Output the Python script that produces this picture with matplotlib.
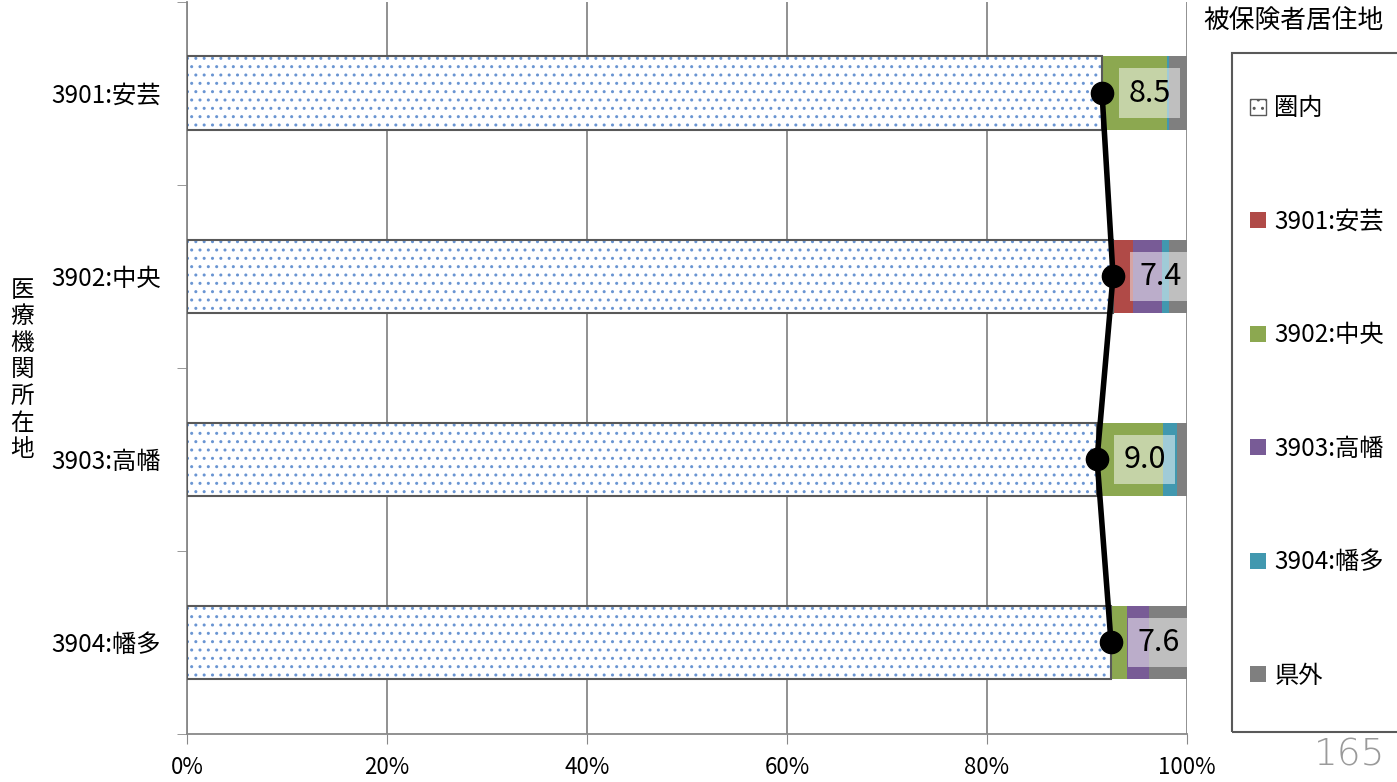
import matplotlib.pyplot as plt
from matplotlib.patches import Patch, Rectangle

plt.rcParams['font.family'] = ['Noto Sans CJK JP', 'DejaVu Sans']

# data (percent of patients by residence, per hospital area)
areas = ['3901:安芸', '3902:中央', '3903:高幡', '3904:幡多']
inner = [91.5, 92.6, 91.0, 92.4]      # 圏内
aki = [0.0, 2.0, 0.0, 0.0]            # 3901:安芸
chuo = [6.5, 0.0, 6.6, 1.6]           # 3902:中央
takahata = [0.0, 2.9, 0.0, 2.2]       # 3903:高幡
hata = [0.2, 0.7, 1.4, 0.0]           # 3904:幡多
outside = [1.8, 1.8, 1.0, 3.8]        # 県外

series = [('3901:安芸', aki, '#B04A47'),
          ('3902:中央', chuo, '#8CA850'),
          ('3903:高幡', takahata, '#785B96'),
          ('3904:幡多', hata, '#4198AF'),
          ('県外', outside, '#7F7F7F')]

fig = plt.figure(figsize=(13.97, 7.82), dpi=100)
ax = fig.add_axes([0.1339, 0.0614, 0.7158, 0.9366])

ypos = list(range(len(areas)))
bh = 0.4

# 圏内: dotted fill + outline
ax.barh(ypos, inner, height=bh, color='white', edgecolor='#6A95D2',
        hatch='..', linewidth=0, zorder=2)
ax.barh(ypos, inner, height=bh, fill=False, edgecolor='#595959',
        linewidth=1.5, zorder=3)

left = list(inner)
for name, vals, col in series:
    ax.barh(ypos, vals, left=left, height=bh, color=col, linewidth=0, zorder=2)
    left = [a + b for a, b in zip(left, vals)]

# line through the 圏内 share, labelled with the outflow share
ax.plot(inner, ypos, color='black', lw=4, marker='o', ms=16, zorder=5)
for v, y in zip(inner, ypos):
    ax.annotate(f'{100 - v:.1f}', (v, y), xytext=(19, 0), textcoords='offset points',
                ha='left', va='center', fontsize=22, zorder=6,
                bbox=dict(boxstyle='square,pad=0.3', facecolor='white',
                          edgecolor='none', alpha=0.5))

ax.set_xlim(0, 100)
ax.set_ylim(3.5, -0.5)
ax.set_xticks(range(0, 101, 20))
ax.set_xticklabels([f'{t}%' for t in range(0, 101, 20)], fontsize=16)
ax.set_yticks(ypos)
ax.set_yticklabels(areas, fontsize=17.5)
ax.set_yticks([-0.5, 0.5, 1.5, 2.5, 3.5], minor=True)
ax.tick_params(axis='y', which='major', length=0, pad=19)
ax.tick_params(axis='y', which='minor', length=7, color='#888888')
ax.tick_params(axis='x', length=7, color='#888888', pad=9)
ax.grid(axis='x', color='#888888', lw=1.3)
ax.set_axisbelow(True)
for s in ['top', 'right']:
    ax.spines[s].set_visible(False)
for s in ['left', 'bottom']:
    ax.spines[s].set_color('#888888')
    ax.spines[s].set_linewidth(1.3)

fig.text(0.016, 0.527, '\n'.join('医療機関所在地'), fontsize=17,
         ha='center', va='center', linespacing=1.2)

# legend: frame drawn separately so it can run off the right edge
fig.patches.append(Rectangle((0.882, 1 - 732 / 782), 0.2, (732 - 53) / 782,
                             transform=fig.transFigure, fill=False,
                             edgecolor='#595959', lw=1.5))
handles = [Patch(facecolor='white', edgecolor='#595959', hatch='..', label='圏内')]
handles += [Patch(facecolor=c, edgecolor='none', label=n) for n, _, c in series]
fig.legend(handles=handles, loc='center left', bbox_to_anchor=(0.8948, 0.4987),
           fontsize=17.5, frameon=False, handlelength=0.65, handleheight=0.65,
           handletextpad=0.35, labelspacing=3.6, borderpad=0, borderaxespad=0)

fig.text(0.926, 0.973, '被保険者居住地', fontsize=18.5, ha='center', va='center')
fig.text(0.966, 0.034, '165', fontsize=27, color='#9A9A9A', ha='center',
         va='center', family='DejaVu Sans', weight='light')

fig.savefig('out.png', dpi=100)
